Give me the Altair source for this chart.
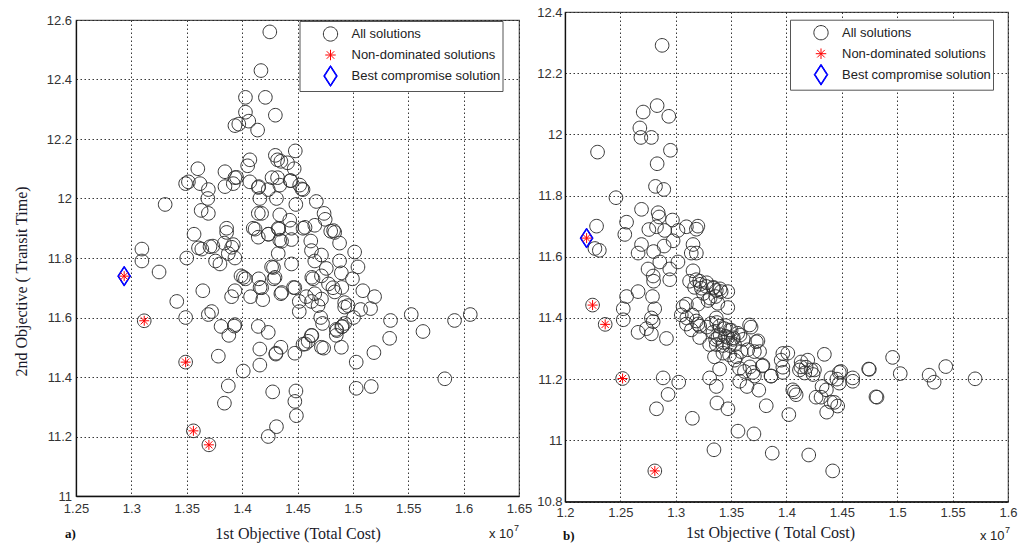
import altair as alt
import pandas as pd

types = ["All solutions", "Non-dominated solutions", "Best compromise solution"]
colors = ["#333333", "#ff0000", "#0000ff"]

# marker outlines (unit coordinates)
CIRCLE = "M0.68,0A0.68,0.68,0,1,1,-0.68,0A0.68,0.68,0,1,1,0.68,0Z"
STAR = "M-0.5,0L0.5,0M0,-0.5L0,0.5M-0.36,-0.36L0.36,0.36M-0.36,0.36L0.36,-0.36"
DIAMOND = ("M0,-1L0.65,0L0,1L-0.65,0Z"
           "M0,-0.93L0.6,0L0,0.93L-0.6,0Z"
           "M0,-0.86L0.55,0L0,0.86L-0.55,0Z")

# ---------------- panel a) ----------------
a_all_x = [1.425, 1.417, 1.403, 1.421, 1.403, 1.430, 1.3935, 1.397, 1.406, 1.414,
           1.448, 1.430, 1.432, 1.435, 1.407, 1.405, 1.360, 1.3845, 1.3935, 1.427,
           1.441, 1.447, 1.444, 1.3515, 1.349, 1.362, 1.3695, 1.3845, 1.392, 1.407,
           1.415, 1.4236, 1.434, 1.432, 1.452, 1.455, 1.369, 1.3305, 1.416, 1.431,
           1.467, 1.4485, 1.363, 1.3695, 1.4176, 1.4146, 1.434, 1.474, 1.475, 1.386,
           1.386, 1.3566, 1.410, 1.4236, 1.4326, 1.443, 1.4446, 1.455, 1.4656, 1.480,
           1.4836, 1.4146, 1.4356, 1.434, 1.4446, 1.462, 1.488, 1.384, 1.392, 1.3736,
           1.3636, 1.4626, 1.4716, 1.4326, 1.5016, 1.3095, 1.3875, 1.3935, 1.350, 1.376,
           1.380, 1.3095, 1.4446, 1.4656, 1.488, 1.476, 1.4266, 1.5046, 1.325, 1.4896,
           1.399, 1.403, 1.415, 1.4286, 1.464, 1.4716, 1.4996, 1.4476, 1.482, 1.4176,
           1.3935, 1.509, 1.3645, 1.3905, 1.4076, 1.4186, 1.435, 1.458, 1.4656, 1.4836,
           1.5196, 1.341, 1.4626, 1.4686, 1.4716, 1.4926, 1.4956, 1.4926, 1.4516, 1.4516,
           1.507, 1.516, 1.5006, 1.3695, 1.3725, 1.349, 1.5527, 1.606, 1.5918, 1.534,
           1.471, 1.4726, 1.4926, 1.4906, 1.381, 1.3935, 1.393, 1.4146, 1.485, 1.4236,
           1.5633, 1.388, 1.4626, 1.485, 1.5332, 1.455, 1.4596, 1.416, 1.435, 1.4716,
           1.4736, 1.4896, 1.3785, 1.4306, 1.4476, 1.519, 1.416, 1.401, 1.503, 1.349,
           1.3875, 1.503, 1.5166, 1.583, 1.4276, 1.4486, 1.4476, 1.384, 1.449, 1.431,
           1.4236, 1.3116, 1.356, 1.370, 1.4117, 1.4238, 1.433, 1.4568, 1.4826, 1.3606,
           1.371, 1.3906, 1.4283, 1.4297, 1.4012, 1.4162, 1.4358, 1.4464, 1.4629, 1.478,
           1.490, 1.4569, 1.463, 1.4855, 1.490, 1.4304, 1.4434, 1.4539, 1.395, 1.4147]
a_all_y = [12.56, 12.43, 12.34, 12.34, 12.29, 12.28, 12.245, 12.25, 12.26, 12.23,
           12.16, 12.145, 12.13, 12.125, 12.13, 12.11, 12.10, 12.09, 12.07, 12.07,
           12.12, 12.10, 12.06, 12.056, 12.05, 12.05, 12.03, 12.04, 12.05, 12.056,
           12.04, 12.03, 12.045, 12.07, 12.045, 12.03, 12.00, 11.98, 12.00, 12.00,
           11.99, 11.98, 11.96, 11.95, 11.95, 11.95, 11.945, 11.95, 11.93, 11.90,
           11.886, 11.88, 11.90, 11.88, 11.90, 11.927, 11.90, 11.90, 11.91, 11.89,
           11.886, 11.87, 11.856, 11.86, 11.862, 11.857, 11.85, 11.85, 11.845, 11.84,
           11.83, 11.825, 11.81, 11.815, 11.82, 11.83, 11.815, 11.80, 11.80, 11.79,
           11.78, 11.79, 11.78, 11.79, 11.79, 11.765, 11.77, 11.77, 11.753, 11.75,
           11.74, 11.73, 11.73, 11.73, 11.73, 11.74, 11.73, 11.70, 11.70, 11.70,
           11.69, 11.69, 11.69, 11.67, 11.67, 11.66, 11.68, 11.67, 11.68, 11.686,
           11.67, 11.654, 11.654, 11.64, 11.662, 11.65, 11.64, 11.635, 11.654, 11.62,
           11.627, 11.63, 11.60, 11.61, 11.62, 11.60, 11.61, 11.61, 11.59, 11.59,
           11.60, 11.58, 11.58, 11.57, 11.57, 11.576, 11.571, 11.57, 11.56, 11.55,
           11.553, 11.54, 11.54, 11.54, 11.53, 11.51, 11.52, 11.494, 11.50, 11.50,
           11.497, 11.50, 11.47, 11.48, 11.48, 11.482, 11.44, 11.42, 11.45, 11.45,
           11.37, 11.362, 11.368, 11.394, 11.35, 11.353, 11.318, 11.312, 11.27, 11.233,
           11.20, 11.589, 11.219, 11.172, 11.897, 11.88, 11.897, 11.903, 11.892, 11.834,
           11.838, 11.836, 11.768, 11.735, 11.735, 11.701, 11.684, 11.701, 11.735, 11.713,
           11.701, 11.511, 11.539, 11.556, 11.569, 11.477, 12.06, 12.032, 12.071, 12.037]
a_nd_x = [1.2935, 1.3116, 1.349, 1.356, 1.370]
a_nd_y = [11.739, 11.589, 11.45, 11.219, 11.172]
a_best_x = [1.2935]
a_best_y = [11.739]

# ---------------- panel b) ----------------
b_all_x = [1.2877, 1.2706, 1.2832, 1.2937, 1.2676, 1.2685, 1.278, 1.2294, 1.2952, 1.2832,
           1.2817, 1.2892, 1.246, 1.2691, 1.2841, 1.285, 1.2556, 1.297, 1.2285, 1.2757,
           1.2826, 1.290, 1.3096, 1.320, 1.3186, 1.254, 1.302, 1.2691, 1.266, 1.231,
           1.227, 1.280, 1.2895, 1.2976, 1.3156, 1.314, 1.3186, 1.2856, 1.2946, 1.302,
           1.275, 1.2796, 1.280, 1.2946, 1.3156, 1.3186, 1.3216, 1.3231, 1.3276, 1.334,
           1.3366, 1.341, 1.347, 1.266, 1.279, 1.2556, 1.2526, 1.281, 1.3096, 1.3201,
           1.3291, 1.347, 1.2526, 1.278, 1.2796, 1.305, 1.3096, 1.3186, 1.3216, 1.332,
           1.3366, 1.3396, 1.344, 1.3486, 1.368, 1.266, 1.2736, 1.278, 1.2916, 1.3141,
           1.3216, 1.3336, 1.338, 1.3471, 1.3516, 1.3306, 1.3366, 1.3426, 1.3486, 1.3531,
           1.3742, 1.335, 1.3426, 1.3486, 1.3547, 1.359, 1.365, 1.371, 1.3757, 1.3532,
           1.3787, 1.3396, 1.3306, 1.2886, 1.3027, 1.3366, 1.2931, 1.3372, 1.2826, 1.3471,
           1.315, 1.3577, 1.3643, 1.3697, 1.375, 1.3817, 1.3862, 1.3952, 1.3967, 1.3967,
           1.4012, 1.4021, 1.4072, 1.4087, 1.4132, 1.4117, 1.4177, 1.4192, 1.4222, 1.4252,
           1.4267, 1.4312, 1.4342, 1.4321, 1.4363, 1.4402, 1.4432, 1.4462, 1.4477, 1.4477,
           1.4598, 1.4598, 1.4742, 1.4817, 1.4958, 1.5027, 1.5288, 1.5333, 1.5438, 1.5703,
           1.3562, 1.3706, 1.3345, 1.3871, 1.4201, 1.4417, 1.2249, 1.2363, 1.252, 1.2811,
           1.322, 1.328, 1.334, 1.340, 1.3125, 1.317, 1.325, 1.331, 1.336, 1.338,
           1.3066, 1.310, 1.315, 1.320, 1.328, 1.337, 1.345, 1.350, 1.356, 1.361,
           1.3667, 1.340, 1.345, 1.352, 1.358, 1.336, 1.343, 1.3727, 1.3575, 1.362,
           1.367, 1.371, 1.3782, 1.386, 1.3967, 1.4057, 1.413, 1.4165, 1.424, 1.436,
           1.440, 1.4455, 1.449, 1.4748, 1.4808]
b_all_y = [12.291, 12.073, 12.094, 12.059, 12.021, 11.99, 11.99, 11.942, 11.948, 11.904,
           11.83, 11.82, 11.793, 11.755, 11.744, 11.73, 11.713, 11.72, 11.70, 11.689,
           11.698, 11.686, 11.698, 11.70, 11.69, 11.673, 11.686, 11.64, 11.612, 11.621,
           11.627, 11.617, 11.635, 11.652, 11.64, 11.612, 11.612, 11.583, 11.56, 11.583,
           11.56, 11.537, 11.52, 11.525, 11.554, 11.525, 11.52, 11.497, 11.503, 11.497,
           11.49, 11.486, 11.486, 11.486, 11.47, 11.47, 11.43, 11.43, 11.445, 11.445,
           11.457, 11.434, 11.394, 11.40, 11.388, 11.41, 11.38, 11.39, 11.373, 11.382,
           11.40, 11.373, 11.365, 11.36, 11.37, 11.353, 11.365, 11.348, 11.333, 11.361,
           11.336, 11.353, 11.336, 11.336, 11.33, 11.313, 11.313, 11.31, 11.31, 11.313,
           11.325, 11.273, 11.285, 11.279, 11.273, 11.29, 11.296, 11.29, 11.29, 11.262,
           11.245, 11.233, 11.204, 11.204, 11.19, 11.176, 11.15, 11.122, 11.103, 11.103,
           11.072, 11.193, 11.176, 11.222, 11.164, 11.113, 11.21, 11.262, 11.239, 11.222,
           11.285, 11.084, 11.158, 11.149, 11.256, 11.23, 11.239, 11.262, 11.23, 11.23,
           11.141, 11.141, 11.281, 11.176, 11.092, 11.204, 11.124, 11.112, 11.222, 11.187,
           11.204, 11.193, 11.233, 11.141, 11.271, 11.218, 11.213, 11.19, 11.241, 11.201,
           11.03, 11.021, 10.969, 10.958, 10.952, 10.90, 11.442, 11.379, 11.202, 10.90,
           11.51, 11.515, 11.50, 11.495, 11.52, 11.50, 11.48, 11.465, 11.47, 11.448,
           11.437, 11.40, 11.41, 11.38, 11.37, 11.385, 11.375, 11.36, 11.35, 11.33,
           11.377, 11.345, 11.34, 11.335, 11.344, 11.33, 11.32, 11.322, 11.235, 11.225,
           11.24, 11.21, 11.243, 11.21, 11.284, 11.165, 11.24, 11.22, 11.215, 11.165,
           11.125, 11.20, 11.225, 11.232, 11.142]
b_nd_x = [1.2195, 1.2249, 1.2363, 1.252, 1.2811]
b_nd_y = [11.661, 11.442, 11.379, 11.202, 10.90]
b_best_x = [1.2195]
b_best_y = [11.661]

a_xticks = [1.25, 1.3, 1.35, 1.4, 1.45, 1.5, 1.55, 1.6, 1.65]
a_yticks = [11.0, 11.2, 11.4, 11.6, 11.8, 12.0, 12.2, 12.4, 12.6]
b_xticks = [1.2, 1.25, 1.3, 1.35, 1.4, 1.45, 1.5, 1.55, 1.6]
b_yticks = [10.8, 11.0, 11.2, 11.4, 11.6, 11.8, 12.0, 12.2, 12.4]


def frame(ax, ay, nx, ny, bx, by):
    rows = [{"cost": x, "time": y, "type": types[0]} for x, y in zip(ax, ay)]
    rows += [{"cost": x, "time": y, "type": types[2]} for x, y in zip(bx, by)]
    rows += [{"cost": x, "time": y, "type": types[1]} for x, y in zip(nx, ny)]
    return pd.DataFrame(rows)


def text(txt, x, y, size=13, font="Liberation Sans", weight="normal", color="#222222"):
    return alt.Chart(pd.DataFrame({"t": [txt]})).mark_text(
        font=font, fontSize=size, fontWeight=weight, color=color,
        align="left", baseline="middle").encode(
        text="t:N", x=alt.value(x), y=alt.value(y))


def panel(df, xdom, ydom, xticks, yticks, w, h, legx, legy,
          xtitle, xtitle_x, xtitle_y, ytitle, tag, tag_xy, exp_xy, lpad_x, lpad_y):
    legend = alt.Legend(
        title=None, orient="none", legendX=legx, legendY=legy,
        fillColor="white", strokeColor="#555555", padding=2,
        symbolSize=441, symbolStrokeWidth=1, symbolOffset=18,
        labelOffset=10, rowPadding=0, labelFont="Liberation Sans",
        labelFontSize=13, labelColor="#222222", labelLimit=300)
    yaxis = dict(values=yticks, format=".4~g", labelPadding=lpad_y)
    if ytitle:
        yaxis.update(title=ytitle, titleX=-54.5, titleY=261, titleBaseline="middle",
                     titleAlign="center")
    else:
        yaxis.update(title=None)
    pts = alt.Chart(df).mark_point(filled=False, size=400, strokeWidth=1, opacity=1).encode(
        x=alt.X("cost:Q", scale=alt.Scale(domain=xdom, nice=False, zero=False),
                axis=alt.Axis(values=xticks, format=".4~g", title=xtitle,
                              titleX=xtitle_x, titleY=xtitle_y, titleBaseline="middle",
                              titleAlign="center", labelPadding=lpad_x)),
        y=alt.Y("time:Q", scale=alt.Scale(domain=ydom, nice=False, zero=False),
                axis=alt.Axis(**yaxis)),
        shape=alt.Shape("type:N", scale=alt.Scale(domain=types, range=[CIRCLE, STAR, DIAMOND]),
                        legend=legend),
        stroke=alt.Stroke("type:N", scale=alt.Scale(domain=types, range=colors), legend=legend),
    )
    layers = [pts,
              text(tag, tag_xy[0], tag_xy[1], size=13, font="Liberation Serif", weight="bold",
                   color="#111111"),
              text("x 10", exp_xy[0], exp_xy[1], size=13),
              text("7", exp_xy[0] + 25, exp_xy[1] - 6, size=9)]
    return alt.layer(*layers).properties(width=w, height=h)


dfa = frame(a_all_x, a_all_y, a_nd_x, a_nd_y, a_best_x, a_best_y)
dfb = frame(b_all_x, b_all_y, b_nd_x, b_nd_y, b_best_x, b_best_y)

left_panel = panel(dfa, [1.25, 1.65], [11.0, 12.6], a_xticks, a_yticks, 443, 476, 223.5, 9,
                   "1st Objective (Total Cost)", 221.5, 37.7, "2nd Objective ( Transit Time)",
                   "a)", (-11, 514), (413, 514), 6, 4.5)
# thin invisible strip that lowers panel a) relative to panel b)
blank = alt.Chart(pd.DataFrame({"v": [0]})).mark_rule(opacity=0).encode(
    x=alt.value(0), y=alt.value(0), y2=alt.value(1)).properties(
    width=443, height=1, view=alt.ViewBackground(strokeOpacity=0))
left = alt.vconcat(blank, left_panel, spacing=0)

right = panel(dfb, [1.2, 1.6], [10.8, 12.4], b_xticks, b_yticks, 443, 489.5, 225, 7.7,
              "1st Objective ( Total Cost)", 205, 31, None,
              "b)", (-2, 524), (415, 524), 5, 3)

chart = alt.hconcat(left, right, spacing=3).resolve_scale(
    shape="independent", stroke="independent").resolve_legend(
    shape="independent", stroke="independent").properties(
    padding={"left": 12, "top": 5, "right": 0, "bottom": 0},
    background="white").configure_view(
    stroke="#555555", strokeWidth=1.2).configure_axis(
    grid=True, gridColor="#222222", gridDash=[1.5, 2.5], gridWidth=1, gridOpacity=0.9,
    ticks=False, domainColor="#111111", domainWidth=1.3,
    labelFont="Liberation Sans", labelFontSize=13, labelColor="#333333",
    labelFlush=False, labelOverlap=False,
    titleFont="Liberation Serif", titleFontSize=16, titleFontWeight="normal",
    titleColor="#1a1a2a")

chart.save("out.html", embed_options={"renderer": "svg", "actions": False})
